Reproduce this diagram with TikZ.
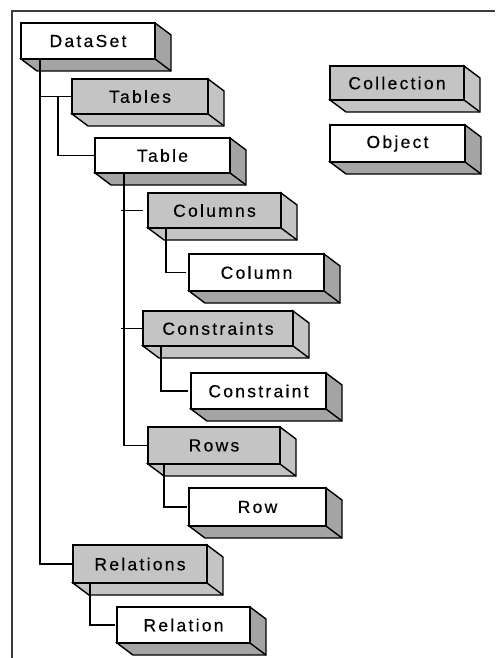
\documentclass[tikz,border=0pt]{standalone}
\usepackage{fontspec}
\setmainfont{Liberation Sans}[LetterSpace=13, FakeBold=0.4]
\usetikzlibrary{backgrounds}

\definecolor{collfill}{HTML}{C4C4C4}
\definecolor{objside}{HTML}{A4A4A4}
\definecolor{framegray}{HTML}{3C3C3C}

\tikzset{
  objbox/.style={draw=black, line width=1.4pt, fill=white, inner sep=0pt,
    outer sep=0pt, font=\fontsize{17.5}{18}\selectfont},
  collbox/.style={objbox, fill=collfill},
  extrusion/.style={draw=black, line width=1.4pt, line join=miter},
  link/.style={draw=black, line width=1.4pt},
  frameline/.style={draw=framegray, line width=1.6pt}
}

% front face of a box from its corners (x1,y1)-(x2,y2)
\newcommand\classbox[7]{%
  \node[#1, minimum width={#5pt-#3pt}, minimum height={#6pt-#4pt}]
    (#2) at ({(#3+#5)/2},{(#4+#6)/2}) {#7};}
% side and bottom faces behind a front face
\newcommand\boxdepth[2]{%
  \filldraw[extrusion, fill=#2] (#1.north east) -- ++(16,12)
    -- ([shift={(16,12)}]#1.south east) -- ([shift={(16,12)}]#1.south west)
    -- (#1.south west) -- (#1.south east) -- cycle;
  \draw[extrusion] (#1.south east) -- ++(16,12);}

\begin{document}
\begin{tikzpicture}[x=1pt, y=-1pt]
  \useasboundingbox (0,0) rectangle (495,658);

  % outer frame
  \draw[frameline] (12,658) -- (12,11) -- (495,11);

  % boxes
  \classbox{objbox}{ds}{21}{23}{155}{59}{DataSet}
  \classbox{collbox}{tables}{72}{79}{208}{114}{Tables}
  \classbox{objbox}{table}{95}{138}{230}{173}{Table}
  \classbox{collbox}{columns}{148}{193}{281}{228}{Columns}
  \classbox{objbox}{column}{189}{254}{324}{291}{Column}
  \classbox{collbox}{constraints}{143}{311}{293}{346}{Constraints}
  \classbox{objbox}{constraint}{191}{373}{326}{409}{Constraint}
  \classbox{collbox}{rows}{148}{427}{280}{464}{Rows}
  \classbox{objbox}{row}{189}{488}{326}{526}{Row}
  \classbox{collbox}{relations}{73}{545}{207}{583}{Relations}
  \classbox{objbox}{relation}{117}{607}{250}{643}{Relation}
  % legend
  \classbox{collbox}{collection}{330}{66}{464}{100}{Collection}
  \classbox{objbox}{object}{330}{125}{465}{162}{Object}

  \begin{scope}[on background layer]
    \foreach \n in {ds,table,column,constraint,row,relation,object}
      {\boxdepth{\n}{objside}}
    \foreach \n in {tables,columns,constraints,rows,relations,collection}
      {\boxdepth{\n}{collfill}}
  \end{scope}

  % trunk lines
  \coordinate (dstrunk) at ([xshift=19pt]ds.south west);
  \coordinate (tbtrunk) at ([xshift=29pt]table.south west);

  \draw[link] (dstrunk) |- (relations.west);
  \draw[link] (dstrunk |- tables.west) -- (tables.west);
  \draw[link] ([xshift=-14pt]tables.west) |- (table.west);

  \draw[link] (tbtrunk) |- (rows.west);
  \draw[link] ([xshift=-3pt]tbtrunk |- columns.west) -- ([xshift=-5pt]columns.west);
  \draw[link] ([xshift=-3pt]tbtrunk |- constraints.west) -- (constraints.west);

  \draw[link] ([xshift=18pt]columns.south west) |- ([xshift=-3pt]column.west);
  \draw[link] ([xshift=18pt]constraints.south west) |- ([xshift=-3pt]constraint.west);
  \draw[link] ([xshift=16pt]rows.south west) |- ([xshift=-2pt]row.west);
  \draw[link] ([xshift=17pt]relations.south west) |- ([xshift=-2pt]relation.west);
\end{tikzpicture}
\end{document}
